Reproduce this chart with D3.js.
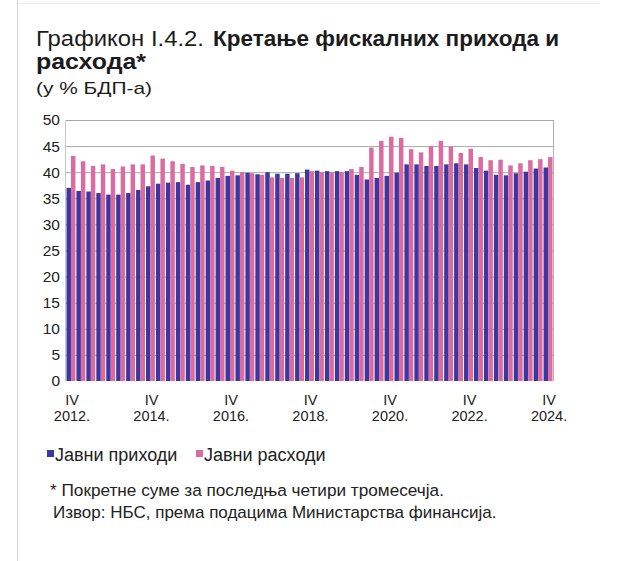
<!DOCTYPE html>
<html>
<head>
<meta charset="utf-8">
<script src="https://cdn.jsdelivr.net/npm/d3@7/dist/d3.min.js"></script>
<style>
  html, body { margin: 0; padding: 0; background: #fff; }
  svg { display: block; font-family: "Liberation Sans", Arial, sans-serif; }
</style>
</head>
<body>
<svg id="chart" width="620" height="561"></svg>
<script>
// Quarters, from Q4 2012 to Q4 2024
const quarters = [
  "IV 2012",
  "I 2013", "II 2013", "III 2013", "IV 2013",
  "I 2014", "II 2014", "III 2014", "IV 2014",
  "I 2015", "II 2015", "III 2015", "IV 2015",
  "I 2016", "II 2016", "III 2016", "IV 2016",
  "I 2017", "II 2017", "III 2017", "IV 2017",
  "I 2018", "II 2018", "III 2018", "IV 2018",
  "I 2019", "II 2019", "III 2019", "IV 2019",
  "I 2020", "II 2020", "III 2020", "IV 2020",
  "I 2021", "II 2021", "III 2021", "IV 2021",
  "I 2022", "II 2022", "III 2022", "IV 2022",
  "I 2023", "II 2023", "III 2023", "IV 2023",
  "I 2024", "II 2024", "III 2024", "IV 2024"
];

// Public revenues, % of GDP (four-quarter rolling sums)
const revenues = [
  37.0,
  36.4, 36.3, 36.0, 35.7,
  35.7, 36.0, 36.6, 37.3,
  37.8, 38.0, 38.1, 37.6,
  38.1, 38.4, 38.9, 39.3,
  39.4, 39.9, 39.6, 40.0,
  39.7, 39.7, 39.8, 40.5,
  40.3, 40.2, 40.2, 40.2,
  39.5, 38.6, 38.9, 39.3,
  39.9, 41.5, 41.5, 41.2,
  41.2, 41.5, 41.7, 41.5,
  40.8, 40.3, 39.5, 39.4,
  39.8, 40.1, 40.7, 40.9
];

// Public expenditures, % of GDP (four-quarter rolling sums)
const expenditures = [
  43.1,
  42.1, 41.2, 41.5, 40.6,
  41.1, 41.5, 41.5, 43.2,
  42.6, 42.1, 41.6, 41.0,
  41.3, 41.2, 41.0, 40.3,
  40.0, 39.8, 39.5, 39.0,
  38.9, 38.9, 39.0, 40.2,
  40.0, 40.0, 40.0, 40.6,
  41.0, 44.7, 46.0, 46.8,
  46.6, 44.4, 43.8, 45.0,
  46.0, 44.9, 43.7, 44.5,
  42.9, 42.3, 42.4, 41.3,
  41.7, 42.3, 42.5, 42.9
];

const seriesNames = ["Јавни приходи", "Јавни расходи"];
const seriesColors = ["#3b379e", "#da6ca2"];
const yTicks = [0, 5, 10, 15, 20, 25, 30, 35, 40, 45, 50];
const labelledQuarters = ["IV 2012", "IV 2014", "IV 2016", "IV 2018", "IV 2020", "IV 2022", "IV 2024"];

const svg = d3.select("#chart");
svg.append("rect").attr("width", 620).attr("height", 561).attr("fill", "#fff");

// faint page frame
svg.append("line").attr("x1", 17.5).attr("x2", 17.5).attr("y1", 0).attr("y2", 561)
  .attr("stroke", "#d4d4d4").attr("stroke-width", 1);
svg.append("line").attr("x1", 18).attr("x2", 600).attr("y1", 3.5).attr("y2", 3.5)
  .attr("stroke", "#ececec").attr("stroke-width", 1);

// Title
const ink = "#1c1c1c";
svg.append("text").attr("x", 36).attr("y", 46)
  .attr("font-size", 22.5).attr("fill", ink)
  .attr("textLength", 168).attr("lengthAdjust", "spacingAndGlyphs")
  .text("Графикон I.4.2.");
svg.append("text").attr("x", 213).attr("y", 46)
  .attr("font-size", 22.5).attr("font-weight", "bold").attr("fill", ink)
  .attr("textLength", 346).attr("lengthAdjust", "spacingAndGlyphs")
  .text("Кретање фискалних прихода и");
svg.append("text").attr("x", 36).attr("y", 69)
  .attr("font-size", 22.5).attr("font-weight", "bold").attr("fill", ink)
  .attr("textLength", 110).attr("lengthAdjust", "spacingAndGlyphs")
  .text("расхода*");
svg.append("text").attr("x", 36).attr("y", 94)
  .attr("font-size", 17).attr("fill", ink)
  .attr("textLength", 116).attr("lengthAdjust", "spacingAndGlyphs")
  .text("(у % БДП-а)");

// Plot area
const plot = { left: 66, right: 553, top: 120, bottom: 381 };

const x = d3.scaleBand().domain(quarters).range([plot.left, plot.right]).paddingInner(0.1).paddingOuter(0.05);
const xs = d3.scaleBand().domain([0, 1]).range([0, x.bandwidth()]);
const y = d3.scaleLinear().domain([0, 50]).range([plot.bottom, plot.top]);

// gridlines
svg.append("g").selectAll("line").data(yTicks.filter(t => t > 0)).join("line")
  .attr("x1", plot.left).attr("x2", plot.right)
  .attr("y1", d => y(d) + 0.5).attr("y2", d => y(d) + 0.5)
  .attr("stroke", "#a8a8a8").attr("stroke-width", 1);
// plot borders
svg.append("line").attr("x1", plot.right + 0.5).attr("x2", plot.right + 0.5)
  .attr("y1", plot.top).attr("y2", plot.bottom).attr("stroke", "#b0b0b0");
svg.append("line").attr("x1", plot.left - 0.5).attr("x2", plot.left - 0.5)
  .attr("y1", plot.top).attr("y2", plot.bottom).attr("stroke", "#c8c8c8");

// bars
const groups = svg.append("g").selectAll("g").data(quarters).join("g")
  .attr("transform", d => `translate(${x(d)},0)`);
groups.selectAll("rect")
  .data((d, i) => [revenues[i], expenditures[i]])
  .join("rect")
  .attr("x", (d, j) => xs(j))
  .attr("width", xs.bandwidth())
  .attr("y", d => y(d))
  .attr("height", d => y(0) - y(d))
  .attr("fill", (d, j) => seriesColors[j]);

// y axis
const yAxis = svg.append("g").attr("transform", `translate(${plot.left},0)`)
  .call(d3.axisLeft(y).tickValues(yTicks).tickSize(0).tickPadding(6));
yAxis.select(".domain").remove();
yAxis.selectAll("text").attr("font-size", 15.5).attr("fill", "#222")
  .attr("font-family", "Liberation Sans, Arial, sans-serif");

// x axis labels: quarter on the first line, year on the second
const xAxis = svg.append("g").attr("transform", `translate(0,${plot.bottom})`)
  .call(d3.axisBottom(x).tickValues(labelledQuarters).tickSize(0).tickFormat(""));
xAxis.select(".domain").remove();
xAxis.selectAll(".tick").each(function(d) {
  const parts = d.split(" ");
  const t = d3.select(this).append("text").attr("fill", "#222")
    .attr("font-size", 14.5).attr("text-anchor", "middle")
    .attr("font-family", "Liberation Sans, Arial, sans-serif");
  t.append("tspan").attr("x", 1).attr("y", 24).text(parts[0]);
  t.append("tspan").attr("x", 1).attr("y", 40).text(parts[1] + ".");
});

// legend
const legendX = [47, 196];
const legend = svg.append("g").selectAll("g").data(seriesNames).join("g")
  .attr("transform", (d, i) => `translate(${legendX[i]},450)`);
legend.append("rect").attr("width", 7).attr("height", 7).attr("y", 0)
  .attr("fill", (d, i) => seriesColors[i]);
legend.append("text").attr("x", 8).attr("y", 11).attr("font-size", 18)
  .attr("fill", "#222").text(d => d);

// notes
svg.append("text").attr("x", 50).attr("y", 496).attr("font-size", 17.2).attr("fill", "#222")
  .text("* Покретне суме за последња четири тромесечја.");
svg.append("text").attr("x", 53).attr("y", 518).attr("font-size", 17).attr("fill", "#222")
  .text("Извор: НБС, према подацима Министарства финансија.");
</script>
</body>
</html>
